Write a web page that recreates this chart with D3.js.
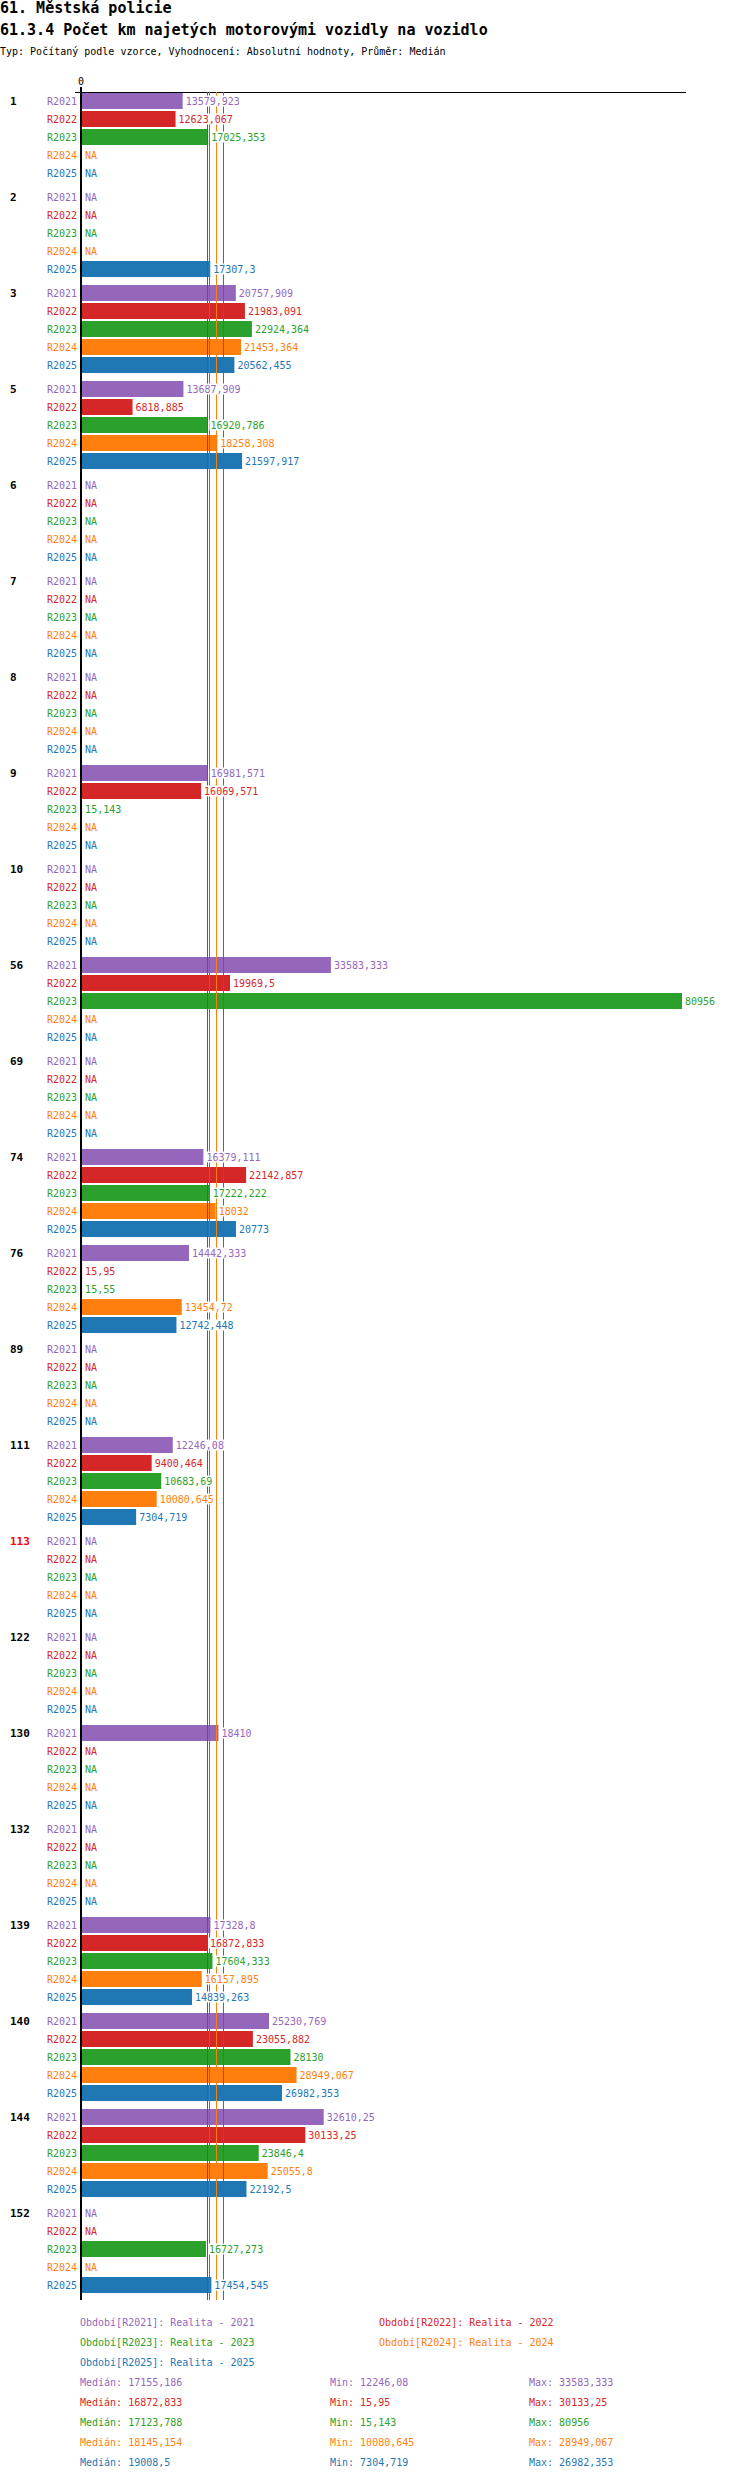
<!DOCTYPE html>
<html>
<head>
<meta charset="utf-8">
<script src="https://cdn.jsdelivr.net/npm/d3@7"></script>
<style>
  body { margin: 0; background: #fff; }
  text { font-family: "DejaVu Sans Mono", monospace; }
</style>
</head>
<body>
<div id="chart"></div>
<script>
// kategorie (radky grafu)
const groups = ["1", "2", "3", "5", "6", "7", "8", "9", "10", "56", "69", "74", "76", "89", "111", "113", "122", "130", "132", "139", "140", "144", "152"];
const highlighted = ["113"];

const seriesNames = ["R2021", "R2022", "R2023", "R2024", "R2025"];
const seriesTitles = ["Realita - 2021", "Realita - 2022", "Realita - 2023", "Realita - 2024", "Realita - 2025"];

const r2021 = [13579.923, null, 20757.909, 13687.909, null, null, null, 16981.571, null, 33583.333, null, 16379.111, 14442.333, null, 12246.08, null, null, 18410, null, 17328.8, 25230.769, 32610.25, null];
const r2022 = [12623.067, null, 21983.091, 6818.885, null, null, null, 16069.571, null, 19969.5, null, 22142.857, 15.95, null, 9400.464, null, null, null, null, 16872.833, 23055.882, 30133.25, null];
const r2023 = [17025.353, null, 22924.364, 16920.786, null, null, null, 15.143, null, 80956, null, 17222.222, 15.55, null, 10683.69, null, null, null, null, 17604.333, 28130, 23846.4, 16727.273];
const r2024 = [null, null, 21453.364, 18258.308, null, null, null, null, null, null, null, 18032, 13454.72, null, 10080.645, null, null, null, null, 16157.895, 28949.067, 25055.8, null];
const r2025 = [null, 17307.3, 20562.455, 21597.917, null, null, null, null, null, null, null, 20773, 12742.448, null, 7304.719, null, null, null, null, 14839.263, 26982.353, 22192.5, 17454.545];

const seriesValues = [r2021, r2022, r2023, r2024, r2025];
const colors = ["#9467bd", "#d62728", "#2ca02c", "#ff7f0e", "#1f77b4"];

const locale = d3.formatLocale({decimal: ",", thousands: "", grouping: [3], currency: ["", ""]});
const fmt3 = locale.format(".3~f");
// zaokrouhleni na 3 mista, polovina nahoru
const fmt = v => fmt3(Math.round(Number((v * 1000).toPrecision(12))) / 1000);

const width = 750, height = 2480;
const svg = d3.select("#chart")
  .append("svg")
  .attr("width", width)
  .attr("height", height);

// nadpisy
svg.append("text").attr("x", 0).attr("y", 13)
  .attr("font-size", 15).attr("font-weight", "bold")
  .text("61. Městská policie");
svg.append("text").attr("x", 0).attr("y", 35)
  .attr("font-size", 15).attr("font-weight", "bold")
  .text("61.3.4 Počet km najetých motorovými vozidly na vozidlo");
svg.append("text").attr("x", 0).attr("y", 55)
  .attr("font-size", 10)
  .text("Typ: Počítaný podle vzorce, Vyhodnocení: Absolutní hodnoty, Průměr: Medián");

const allValues = seriesValues.flat().filter(v => v != null);
const x = d3.scaleLinear()
  .domain([0, d3.max(allValues)])
  .range([82, 682]);

const yGroup = d3.scaleBand()
  .domain(groups)
  .range([92, 92 + 96 * groups.length - 6])
  .paddingInner(6 / 96);

const ySeries = d3.scaleBand()
  .domain(seriesNames)
  .range([0, yGroup.bandwidth()])
  .paddingInner(1 / 9)
  .paddingOuter(1 / 18);

const plotBottom = 2300;

// osa nahore
svg.append("line")
  .attr("x1", 75).attr("x2", 686)
  .attr("y1", 92.5).attr("y2", 92.5)
  .attr("stroke", "#000");
svg.append("text")
  .attr("x", x(0) - 1).attr("y", 85)
  .attr("text-anchor", "middle")
  .attr("font-size", 10)
  .text("0");

const rows = [];
groups.forEach((g, gi) => {
  seriesNames.forEach((s, si) => {
    rows.push({group: g, series: s, si: si, value: seriesValues[si][gi]});
  });
});

const rowY = d => yGroup(d.group) + ySeries(d.series);
const rowMid = d => rowY(d) + ySeries.bandwidth() / 2;

// popisky kategorii
svg.append("g")
  .selectAll("text")
  .data(groups)
  .join("text")
  .attr("x", 10)
  .attr("y", g => yGroup(g) + ySeries(seriesNames[0]) + ySeries.bandwidth() / 2)
  .attr("dy", "0.35em")
  .attr("font-size", 11)
  .attr("font-weight", "bold")
  .attr("fill", g => highlighted.includes(g) ? "#ff0000" : "#000")
  .text(g => g);

// popisky obdobi
svg.append("g")
  .selectAll("text")
  .data(rows)
  .join("text")
  .attr("x", 77)
  .attr("y", rowMid)
  .attr("dy", "0.35em")
  .attr("text-anchor", "end")
  .attr("font-size", 10)
  .attr("fill", d => colors[d.si])
  .text(d => d.series);

// sloupce
svg.append("g")
  .selectAll("rect")
  .data(rows.filter(d => d.value != null))
  .join("rect")
  .attr("x", x(0))
  .attr("y", rowY)
  .attr("width", d => x(d.value) - x(0))
  .attr("height", ySeries.bandwidth())
  .attr("fill", d => colors[d.si]);

// medianove cary
const stats = seriesValues.map(vals => {
  const v = vals.filter(d => d != null);
  return {median: d3.median(v), min: d3.min(v), max: d3.max(v)};
});

svg.append("g")
  .selectAll("line")
  .data(stats)
  .join("line")
  .attr("x1", d => Math.round(x(d.median)) + 0.5)
  .attr("x2", d => Math.round(x(d.median)) + 0.5)
  .attr("y1", 92)
  .attr("y2", plotBottom)
  .attr("stroke", (d, i) => colors[i])
  .attr("stroke-width", 1);

// hodnoty
const labels = svg.append("g")
  .selectAll("g")
  .data(rows)
  .join("g");

labels.append("rect")
  .attr("fill", "#fff");

labels.append("text")
  .attr("x", d => (d.value != null ? x(d.value) : x(0)) + 3)
  .attr("y", rowMid)
  .attr("dy", "0.35em")
  .attr("font-size", 10)
  .attr("fill", d => colors[d.si])
  .text(d => d.value != null ? fmt(d.value) : "NA");

labels.each(function() {
  const t = d3.select(this).select("text");
  const bb = t.node().getBBox();
  d3.select(this).select("rect")
    .attr("x", bb.x - 1).attr("y", bb.y)
    .attr("width", bb.width + 2).attr("height", bb.height);
});

// nulova cara
svg.append("line")
  .attr("x1", x(0) - 1).attr("x2", x(0) - 1)
  .attr("y1", 87).attr("y2", plotBottom)
  .attr("stroke", "#000")
  .attr("stroke-width", 2);

// legenda
const legendPos = [[80, 2322], [379, 2322], [80, 2342], [379, 2342], [80, 2362]];
svg.append("g")
  .selectAll("text")
  .data(seriesNames)
  .join("text")
  .attr("x", (d, i) => legendPos[i][0])
  .attr("y", (d, i) => legendPos[i][1])
  .attr("dy", "0.35em")
  .attr("font-size", 10)
  .attr("fill", (d, i) => colors[i])
  .text((d, i) => "Období[" + d + "]: " + seriesTitles[i]);

const statRows = svg.append("g")
  .selectAll("g")
  .data(stats)
  .join("g")
  .attr("font-size", 10)
  .attr("fill", (d, i) => colors[i]);

statRows.append("text")
  .attr("x", 80).attr("y", (d, i) => 2382 + i * 20).attr("dy", "0.35em")
  .text(d => "Medián: " + fmt(d.median));
statRows.append("text")
  .attr("x", 330).attr("y", (d, i) => 2382 + i * 20).attr("dy", "0.35em")
  .text(d => "Min: " + fmt(d.min));
statRows.append("text")
  .attr("x", 529).attr("y", (d, i) => 2382 + i * 20).attr("dy", "0.35em")
  .text(d => "Max: " + fmt(d.max));
</script>
</body>
</html>
